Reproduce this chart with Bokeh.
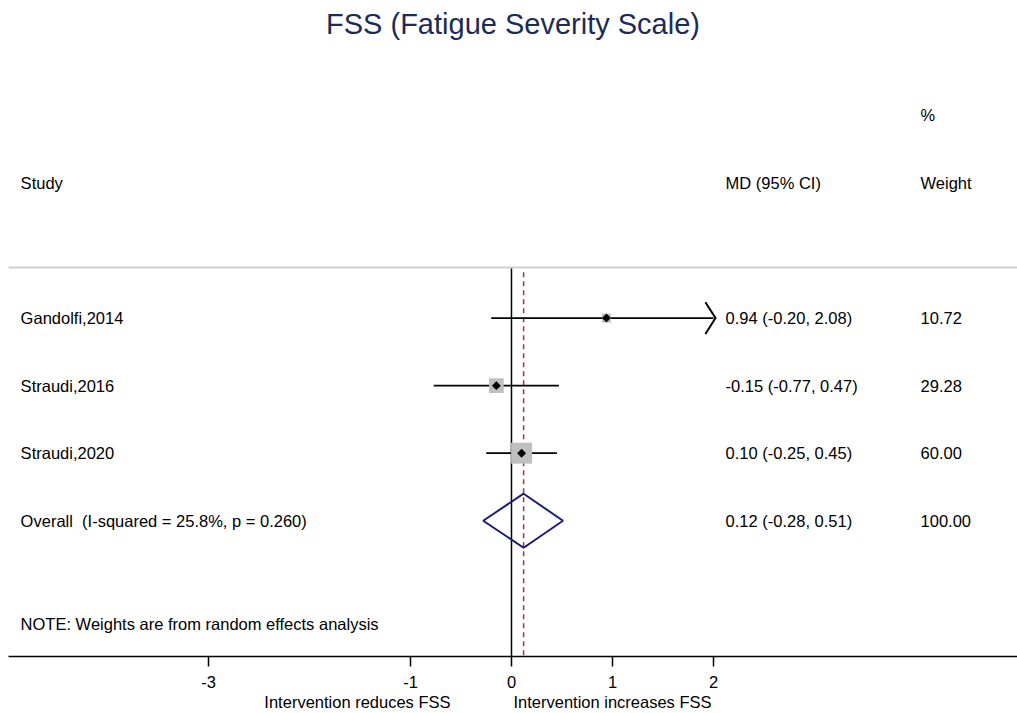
from bokeh.plotting import figure
from bokeh.models import Range1d, FixedTicker, LinearAxis, Span, ColumnDataSource
from bokeh.core.properties import value
from bokeh.embed import file_html
from bokeh.resources import INLINE
import math

# ---- data ----
title_text = "FSS (Fatigue Severity Scale)"
studies = ["Gandolfi,2014", "Straudi,2016", "Straudi,2020"]
md = [0.94, -0.15, 0.10]
ci_low = [-0.20, -0.77, -0.25]
ci_high = [2.08, 0.47, 0.45]
weights = [10.72, 29.28, 60.00]
overall_md = 0.12
overall_low = -0.28
overall_high = 0.51
i_squared = 25.8
p_het = 0.260
x_ticks = [-3, -1, 0, 1, 2]
favours_left = "Intervention reduces FSS"
favours_right = "Intervention increases FSS"
note_text = "NOTE: Weights are from random effects analysis"

FONT = value("Liberation Sans")
FS = "16.5px"

# layout constants (style)
x_lo, x_hi = -4.98, 5.01
col_study, col_md, col_w = -4.86, 2.12, 4.05
row_top, row_bottom = -4.05, 5.01
sep_row = -0.75
n = len(studies)
rows = list(range(n))
overall_row = n
note_row = n + 1.53
axis_max = max(x_ticks)

p = figure(width=1017, height=713, output_backend="svg", toolbar_location=None,
           x_range=Range1d(x_lo, x_hi), y_range=Range1d(row_bottom, row_top),
           min_border_left=8, min_border_right=0, min_border_top=44, min_border_bottom=56,
           y_axis_location=None, x_axis_location=None)
p.outline_line_color = None
p.xgrid.visible = False
p.ygrid.visible = False
p.background_fill_color = "white"
p.border_fill_color = "white"

p.title.text = title_text
p.title.align = "center"
p.title.text_font = "Liberation Sans"
p.title.text_font_size = "29px"
p.title.text_font_style = "normal"
p.title.text_color = "#1c2b56"

# bottom axis
ax = LinearAxis(ticker=FixedTicker(ticks=x_ticks),
                major_label_overrides={t: str(t) for t in x_ticks})
ax.axis_line_color = "black"
ax.axis_line_width = 1.5
ax.major_tick_line_color = "black"
ax.major_tick_line_width = 1.5
ax.major_tick_in = 0
ax.major_tick_out = 10
ax.minor_tick_line_color = None
ax.major_label_standoff = 9
ax.major_label_text_font = "Liberation Sans"
ax.major_label_text_font_size = FS
ax.major_label_text_color = "black"
p.add_layout(ax, "below")

# favours labels axis
fav_pos = [-1.525, 1.0]
ax2 = LinearAxis(ticker=FixedTicker(ticks=fav_pos),
                 major_label_overrides={fav_pos[0]: favours_left, fav_pos[1]: favours_right})
ax2.axis_line_color = None
ax2.major_tick_line_color = None
ax2.minor_tick_line_color = None
ax2.major_tick_in = 0
ax2.major_tick_out = 0
ax2.major_label_standoff = 2
ax2.major_label_text_font = "Liberation Sans"
ax2.major_label_text_font_size = FS
ax2.major_label_text_color = "black"
p.add_layout(ax2, "below")

# separator
p.add_layout(Span(location=sep_row, dimension="width", line_color="#d0d0d0", line_width=2))

# null line and overall line
p.segment(x0=[0], y0=[sep_row], x1=[0], y1=[row_bottom], line_color="black", line_width=1.5)
p.segment(x0=[overall_md], y0=[sep_row + 0.07], x1=[overall_md], y1=[row_bottom],
          line_color="#a8303e", line_width=1.5, line_dash="5 4")

# CIs (clipped at axis max)
clip_hi = [min(h, axis_max) for h in ci_high]
p.segment(x0=ci_low, y0=rows, x1=clip_hi, y1=rows, line_color="black", line_width=1.8)
# arrow heads where clipped
for h, r in zip(ci_high, rows):
    if h > axis_max:
        tip = axis_max + 0.02
        p.line(x=[tip - 0.1, tip, tip - 0.1], y=[r - 0.235, r, r + 0.235],
               line_color="black", line_width=2, line_join="miter")

# weight squares
sizes = [2.71 * math.sqrt(w) for w in weights]
src = ColumnDataSource(dict(x=md, y=rows, s=sizes))
p.scatter("x", "y", size="s", source=src, marker="square", fill_color="#bfbfbf",
          line_color=None)
p.scatter(x=md, y=rows, size=6.3, marker="square", angle=math.pi / 4,
          fill_color="black", line_color=None)

# overall diamond
p.patch(x=[overall_low, overall_md, overall_high, overall_md],
        y=[overall_row, overall_row - 0.4, overall_row, overall_row + 0.4],
        fill_color=None, line_color="#1b1b7c", line_width=2)

# text columns
md_txt = [f"{m:.2f} ({l:.2f}, {h:.2f})" for m, l, h in zip(md, ci_low, ci_high)]
w_txt = [f"{w:.2f}" for w in weights]
overall_label = f"Overall\u00a0 (I-squared = {i_squared:.1f}%, p = {p_het:.3f})"
overall_md_txt = f"{overall_md:.2f} ({overall_low:.2f}, {overall_high:.2f})"

def txt(x, y, t):
    p.text(x=x, y=y, text=t, text_font=FONT, text_font_size=FS, text_color="black",
           text_baseline="middle", text_align="left")

txt([col_study] * (n + 1), rows + [overall_row], studies + [overall_label])
txt([col_md] * (n + 1), rows + [overall_row], md_txt + [overall_md_txt])
txt([col_w] * (n + 1), rows + [overall_row], w_txt + ["100.00"])
txt([col_study, col_md, col_w], [-2.0, -2.0, -2.0], ["Study", "MD (95% CI)", "Weight"])
txt([col_w], [-3.0], ["%"])
txt([col_study], [note_row], [note_text])

open("out.html", "w").write(file_html(p, INLINE))
